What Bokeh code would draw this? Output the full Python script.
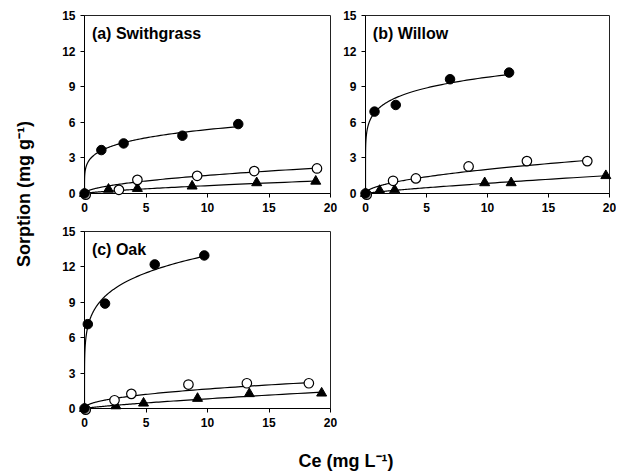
import numpy as np
from bokeh.plotting import figure
from bokeh.models import Range1d, FixedTicker, Label
from bokeh.layouts import row, column
from bokeh.embed import file_html
from bokeh.resources import INLINE

# ---------------- data ----------------
X_TICKS = [0, 5, 10, 15, 20]
Y_TICKS = [0, 3, 6, 9, 12, 15]

# (a) Switchgrass
A_filled_x = [0, 1.37, 3.18, 7.96, 12.5]
A_filled_y = [0, 3.66, 4.22, 4.87, 5.85]
A_open_x = [0.1, 2.8, 4.3, 9.16, 13.8, 18.9]
A_open_y = [-0.1, 0.31, 1.15, 1.49, 1.89, 2.11]
A_tri_x = [0, 1.95, 4.3, 8.75, 14.0, 18.8]
A_tri_y = [0, 0.35, 0.42, 0.62, 0.9, 1.03]

# (b) Willow
B_filled_x = [0, 0.74, 2.48, 6.93, 11.77]
B_filled_y = [0, 6.9, 7.46, 9.63, 10.19]
B_open_x = [0.1, 2.26, 4.13, 8.45, 13.23, 18.18]
B_open_y = [-0.1, 1.07, 1.27, 2.28, 2.73, 2.73]
B_tri_x = [0, 1.16, 2.39, 9.77, 11.94, 19.7]
B_tri_y = [0, 0.25, 0.3, 0.9, 0.9, 1.5]

# (c) Oak
C_filled_x = [0, 0.27, 1.67, 5.71, 9.74]
C_filled_y = [0, 7.15, 8.89, 12.21, 12.97]
C_open_x = [0.1, 2.44, 3.81, 8.45, 13.2, 18.24]
C_open_y = [-0.1, 0.7, 1.24, 2.03, 2.14, 2.14]
C_tri_x = [0, 2.55, 4.8, 9.19, 13.4, 19.28]
C_tri_y = [0, 0.22, 0.45, 0.85, 1.25, 1.3]

# Freundlich fit parameters (K, 1/n) for filled, open, triangle series
A_fit = [(3.4, 0.20), (0.45, 0.53), (0.12, 0.74)]
B_fit = [(7.1, 0.14), (0.60, 0.53), (0.13, 0.82)]
C_fit = [(8.7, 0.173), (0.56, 0.47), (0.13, 0.80)]

TITLES = ["(a) Swithgrass", "(b) Willow", "(c) Oak"]
X_TITLE = "Ce (mg L\u207b\u00b9)"
Y_TITLE = "Sorption (mg g\u207b\u00b9)"

FONT = "Liberation Sans"


def panel(title, series, fits, width, height, bl, br, bt, bb):
    p = figure(width=width, height=height, output_backend="svg",
               toolbar_location=None, x_range=Range1d(0, 20), y_range=Range1d(0, 15),
               min_border_left=bl, min_border_right=br, min_border_top=bt,
               min_border_bottom=bb)
    p.grid.visible = False
    p.background_fill_color = "white"
    p.border_fill_color = "white"
    p.outline_line_color = "#222222"
    p.outline_line_width = 1
    p.xaxis.ticker = FixedTicker(ticks=X_TICKS)
    p.yaxis.ticker = FixedTicker(ticks=Y_TICKS)
    for ax in (p.xaxis, p.yaxis):
        ax.major_tick_in = 0
        ax.major_tick_out = 4
        ax.minor_tick_in = 0
        ax.minor_tick_out = 0
        ax.axis_line_color = "black"
        ax.major_tick_line_color = "black"
        ax.major_label_text_font = FONT
        ax.major_label_text_font_style = "bold"
        ax.major_label_text_font_size = "12px"
        ax.major_label_text_color = "black"
    p.xaxis.major_label_standoff = 5
    p.yaxis.major_label_standoff = 5

    (fx, fy), (ox, oy), (tx, ty) = series
    for (K, e), xs_data in zip(fits, (fx, ox, tx)):
        xmax = max(xs_data)
        xs = np.concatenate([[0.0], np.geomspace(1e-5, xmax, 400)])
        ys = K * xs ** e
        p.line(xs, ys, line_color="black", line_width=1.2)

    p.scatter(tx, ty, marker="triangle", size=10, fill_color="black",
              line_color="black", level="overlay")
    p.scatter(ox, oy, marker="circle", size=9.5, fill_color="white",
              line_color="black", line_width=1.2, level="overlay")
    p.scatter(fx, fy, marker="circle", size=9.5, fill_color="black",
              line_color="black", level="overlay")

    p.add_layout(Label(x=0.6, y=13.45, text=title, text_font=FONT,
                       text_font_style="bold", text_font_size="16px",
                       text_baseline="middle", text_color="black"))
    return p


pa = panel(TITLES[0], [(A_filled_x, A_filled_y), (A_open_x, A_open_y), (A_tri_x, A_tri_y)],
           A_fit, 300, 223, 44, 10, 15, 30)
pb = panel(TITLES[1], [(B_filled_x, B_filled_y), (B_open_x, B_open_y), (B_tri_x, B_tri_y)],
           B_fit, 276, 223, 24, 7, 15, 30)
pc = panel(TITLES[2], [(C_filled_x, C_filled_y), (C_open_x, C_open_y), (C_tri_x, C_tri_y)],
           C_fit, 300, 207, 44, 10, 8, 22)


def blank(width, height):
    f = figure(width=width, height=height, output_backend="svg", toolbar_location=None,
               x_range=Range1d(0, width), y_range=Range1d(0, height),
               min_border=0, min_border_left=0, min_border_right=0,
               min_border_top=0, min_border_bottom=0)
    f.axis.visible = False
    f.grid.visible = False
    f.outline_line_color = None
    f.background_fill_color = "white"
    f.border_fill_color = "white"
    return f


yt = blank(40, 430)
yt.add_layout(Label(x=23.5, y=236.5, text=Y_TITLE, angle=np.pi / 2, text_align="center",
                    text_baseline="middle", text_font=FONT, text_font_style="bold",
                    text_font_size="18px", text_color="black"))

xt = blank(616, 41)
xt.add_layout(Label(x=345.5, y=11, text=X_TITLE, text_align="center",
                    text_baseline="middle", text_font=FONT, text_font_style="bold",
                    text_font_size="18px", text_color="black"))

layout = column(row(yt, column(row(pa, pb), pc)), xt)

open("out.html", "w").write(file_html(layout, INLINE))
